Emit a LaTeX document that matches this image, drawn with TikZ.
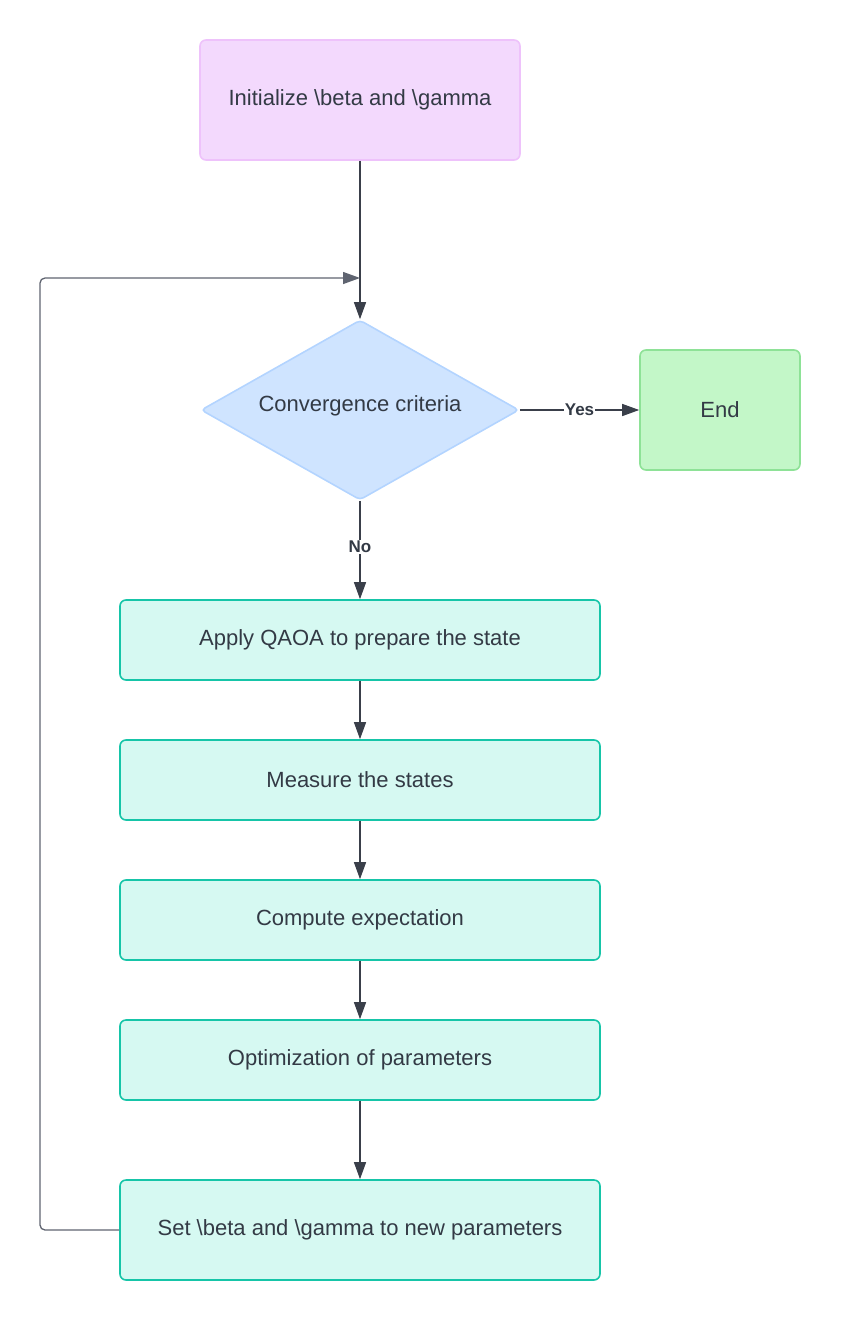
\documentclass[tikz,border=0pt]{standalone}
\usepackage{fontspec}
\setmainfont{Liberation Sans}
\usetikzlibrary{shapes.geometric,arrows.meta}
\definecolor{txtcol}{HTML}{333A45}
\definecolor{linecol}{HTML}{3A3F4A}
\definecolor{loopcol}{HTML}{5F6470}
\definecolor{initfill}{HTML}{F3D9FD}
\definecolor{initdraw}{HTML}{EEC2FB}
\definecolor{decfill}{HTML}{CFE4FF}
\definecolor{decdraw}{HTML}{B3D4FF}
\definecolor{endfill}{HTML}{C3F7C8}
\definecolor{enddraw}{HTML}{8EE297}
\definecolor{stepfill}{HTML}{D6F9F2}
\definecolor{stepdraw}{HTML}{16C5A8}
\begin{document}
\begin{tikzpicture}[x=1pt,y=-1pt,
    every node/.style={text=txtcol,font=\fontsize{22}{26}\selectfont},
    box/.style={rectangle,rounded corners=6pt,line width=1.6pt,inner sep=0pt},
    initbox/.style={box,fill=initfill,draw=initdraw,minimum width=320pt,minimum height=120pt},
    endbox/.style={box,fill=endfill,draw=enddraw,minimum width=160pt,minimum height=120pt},
    stepbox/.style={box,fill=stepfill,draw=stepdraw,minimum width=480pt,minimum height=80pt},
    decision/.style={diamond,fill=decfill,draw=decdraw,line width=1.6pt,inner sep=0pt,
        minimum width=318pt,minimum height=180pt,rounded corners=4pt},
    flow/.style={draw=linecol,line width=1.3pt,-{Triangle[length=17pt,width=12pt]}},
    answer/.style={fill=white,font=\bfseries\fontsize{17}{20}\selectfont,inner sep=1pt}]
    \useasboundingbox (0,0) rectangle (841,1320);
    \node[initbox] (init) at (360,100) {Initialize \textbackslash beta and \textbackslash gamma};
    \node[decision] (conv) at (360,410) {};
    \node at (360,406) {Convergence criteria};
    \node[endbox] (end) at (720,410) {End};
    \node[stepbox] (apply) at (360,640) {Apply QAOA to prepare the state};
    \node[stepbox] (measure) at (360,780) {Measure the states};
    \node[stepbox] (expect) at (360,920) {Compute expectation};
    \node[stepbox] (optim) at (360,1060) {Optimization of parameters};
    \node[stepbox,minimum height=100pt] (update) at (360,1230) {Set \textbackslash beta and \textbackslash gamma to new parameters};
    \coordinate (merge) at (360,278);
    \draw[flow] (init) -- (conv);
    \draw[flow] (conv) -- node[answer] {Yes} (end);
    \draw[flow] (conv) -- node[answer,pos=0.47] {No} (apply);
    \draw[flow] (apply) -- (measure);
    \draw[flow] (measure) -- (expect);
    \draw[flow] (expect) -- (optim);
    \draw[flow] (optim) -- (update);
    \draw[flow,draw=loopcol,rounded corners=5pt] (update.west) -- (40,1230) -- (40,278) -- (merge);
\end{tikzpicture}
\end{document}
